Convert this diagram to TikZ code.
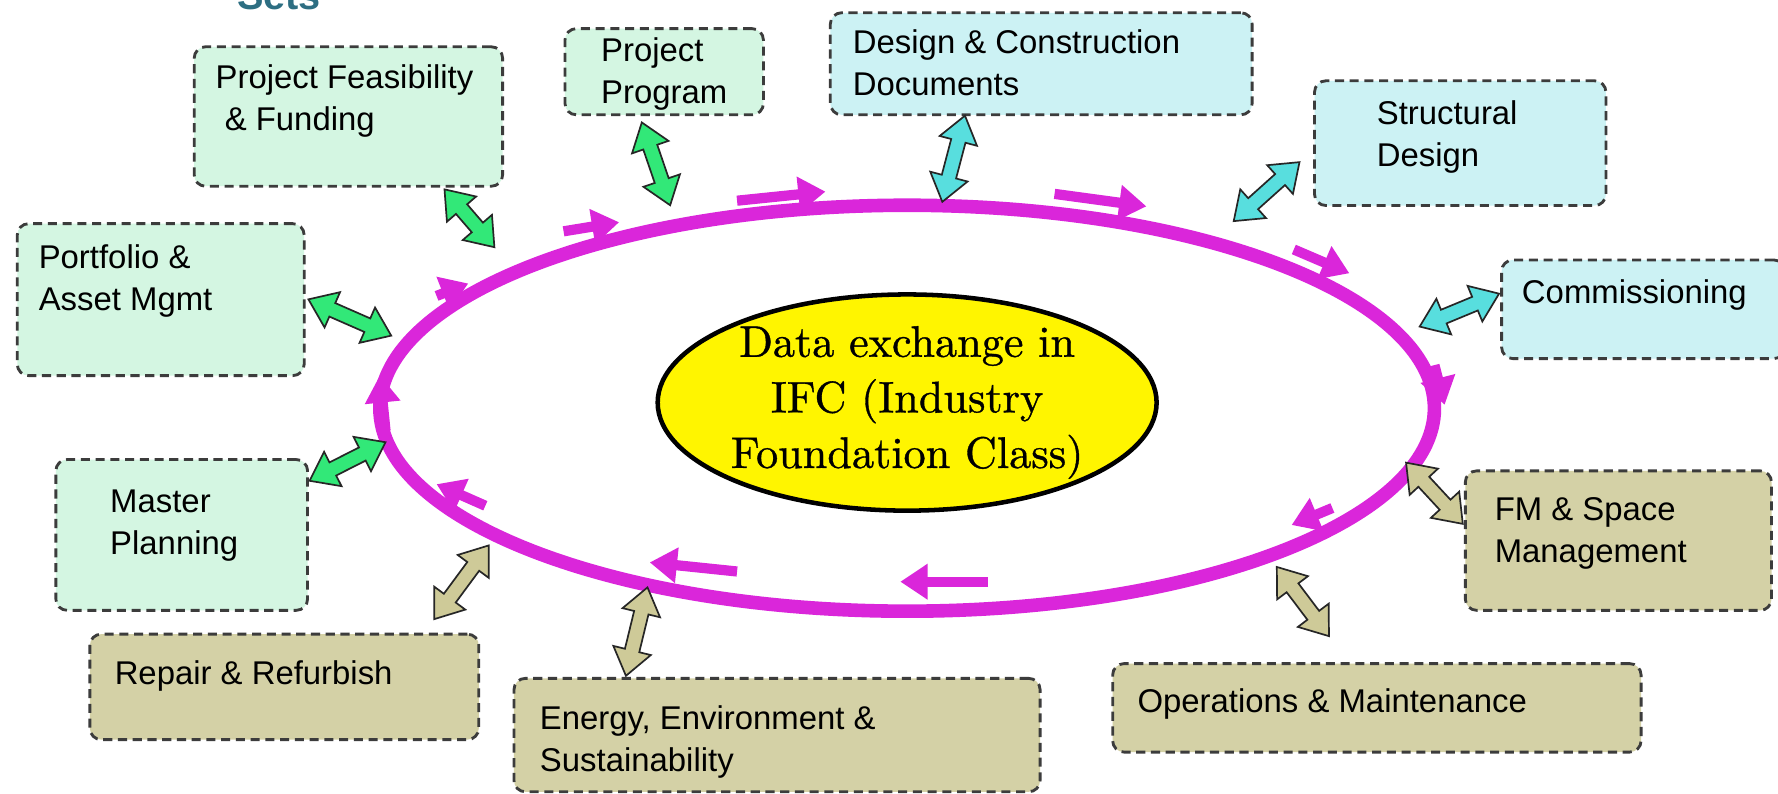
\documentclass[tikz,border=0pt]{standalone}
\usepackage{fontspec}
\setsansfont{Liberation Sans}
\newfontfamily\ifcfont{lmroman10-regular.otf}[FakeBold=0.8]
\usetikzlibrary{calc,arrows.meta,shapes.geometric}
\definecolor{mint}{RGB}{212,246,226}
\definecolor{aqua}{RGB}{204,242,244}
\definecolor{khaki}{RGB}{212,209,166}
\definecolor{ringc}{RGB}{218,38,218}
\definecolor{agreen}{RGB}{50,232,120}
\definecolor{acyan}{RGB}{88,222,222}
\definecolor{akhaki}{RGB}{206,202,152}
\definecolor{bordergray}{RGB}{60,60,60}
\definecolor{ifcyellow}{RGB}{255,245,0}
\definecolor{setsc}{RGB}{45,110,130}
\newcommand\dblarrow[3]{%
  \coordinate (dA) at ($(#1)!23pt!(#2)$);
  \coordinate (dB) at ($(#2)!23pt!(#1)$);
  \draw[dblarr, fill=#3] (#1)
    -- ($(dA)!17pt!90:(#2)$) -- ($(dA)!6.5pt!90:(#2)$)
    -- ($(dB)!6.5pt!-90:(#1)$) -- ($(dB)!17pt!-90:(#1)$)
    -- (#2)
    -- ($(dB)!17pt!90:(#1)$) -- ($(dB)!6.5pt!90:(#1)$)
    -- ($(dA)!6.5pt!-90:(#2)$) -- ($(dA)!17pt!-90:(#2)$)
    -- cycle;
}
\begin{document}
\begin{tikzpicture}[x=1pt,y=-1pt,
  box/.style={draw=bordergray, line width=2.5pt, dash pattern=on 8pt off 5pt, rounded corners=10pt, anchor=north west, inner sep=0pt},
  lbl/.style={anchor=north west, inner sep=0pt, align=left, font=\sffamily\fontsize{29}{37}\selectfont},
  dblarr/.style={draw=black!85, line width=1.5pt, line join=miter},
  flow/.style={draw=ringc, line width=9pt, -{Triangle[length=24pt,width=30pt]}}
]
\useasboundingbox (0,0) rectangle (1568,700);
\fill[white] (0,0) rectangle (1568,700);

% partial title at top edge
\node[anchor=base west, inner sep=0pt, font=\sffamily\bfseries\fontsize{35}{40}\selectfont, text=setsc] (sets) at (209,8) {Sets};

% ring and centre
\node[ellipse, draw=ringc, line width=12pt, minimum width=930pt, minimum height=358pt, inner sep=0pt] (ring) at (800,360) {};
\node[ellipse, draw=black, line width=4pt, fill=ifcyellow, minimum width=440pt, minimum height=184pt, inner sep=0pt, align=center, font=\ifcfont\fontsize{39}{49}\selectfont] (ifc) at (800,355) {Data exchange in\\IFC (Industry\\Foundation Class)};

% boxes
\node[box, fill=mint, minimum width=272pt, minimum height=123pt] (pf) at (170,40) {};
\node[lbl] (pft) at (190,57) {Project Feasibility\\~\& Funding};
\node[box, fill=mint, minimum width=175pt, minimum height=76pt] (pp) at (497,24) {};
\node[lbl] (ppt) at (530,33) {Project\\Program};
\node[box, fill=aqua, minimum width=372pt, minimum height=90pt] (dc) at (731,10) {};
\node[lbl] (dct) at (752,26) {Design \& Construction\\Documents};
\node[box, fill=aqua, minimum width=257pt, minimum height=110pt] (sd) at (1158,70) {};
\node[lbl] (sdt) at (1214,89) {Structural\\Design};
\node[box, fill=aqua, minimum width=250pt, minimum height=87pt] (cm) at (1323,228) {};
\node[lbl] (cmt) at (1342,246) {Commissioning};
\node[box, fill=mint, minimum width=253pt, minimum height=134pt] (pa) at (14,196) {};
\node[lbl] (pat) at (34,216) {Portfolio \&\\Asset Mgmt};
\node[box, fill=mint, minimum width=222pt, minimum height=133pt] (mp) at (48,404) {};
\node[lbl] (mpt) at (97,432) {Master\\Planning};
\node[box, fill=khaki, minimum width=343pt, minimum height=93pt] (rr) at (78,558) {};
\node[lbl] (rrt) at (101,582) {Repair \& Refurbish};
\node[box, fill=khaki, minimum width=464pt, minimum height=100pt] (ee) at (452,597) {};
\node[lbl] (eet) at (476,622) {Energy, Environment \&\\Sustainability};
\node[box, fill=khaki, minimum width=466pt, minimum height=78pt] (om) at (980,584) {};
\node[lbl] (omt) at (1003,607) {Operations \& Maintenance};
\node[box, fill=khaki, minimum width=270pt, minimum height=123pt] (fm) at (1291,414) {};
\node[lbl] (fmt) at (1318,439) {FM \& Space\\Management};

% double arrow end points
\coordinate (pfA) at (392,167); \coordinate (pfB) at (436,218);
\coordinate (paA) at (272,264); \coordinate (paB) at (345,296);
\coordinate (mpA) at (273,424); \coordinate (mpB) at (340,390);
\coordinate (ppA) at (566,108); \coordinate (ppB) at (591,181);
\coordinate (dcA) at (851,102); \coordinate (dcB) at (831,178);
\coordinate (sdA) at (1146,143); \coordinate (sdB) at (1088,195);
\coordinate (cmA) at (1322,259); \coordinate (cmB) at (1252,288);
\coordinate (fmA) at (1290,462); \coordinate (fmB) at (1240,408);
\coordinate (omA) at (1172,561); \coordinate (omB) at (1126,500);
\coordinate (eeA) at (552,596); \coordinate (eeB) at (571,518);
\coordinate (rrA) at (383,546); \coordinate (rrB) at (431,481);

\dblarrow{pfA}{pfB}{agreen}
\dblarrow{paA}{paB}{agreen}
\dblarrow{mpA}{mpB}{agreen}
\dblarrow{ppA}{ppB}{agreen}
\dblarrow{dcA}{dcB}{acyan}
\dblarrow{sdA}{sdB}{acyan}
\dblarrow{cmA}{cmB}{acyan}
\dblarrow{fmA}{fmB}{akhaki}
\dblarrow{omA}{omB}{akhaki}
\dblarrow{eeA}{eeB}{akhaki}
\dblarrow{rrA}{rrB}{akhaki}

% flow arrows around the ring
\coordinate (f1a) at (497,204); \coordinate (f1b) at (546,196);
\coordinate (f2a) at (650,177); \coordinate (f2b) at (728,169);
\coordinate (f3a) at (930,171); \coordinate (f3b) at (1011,182);
\coordinate (f4a) at (1141,220); \coordinate (f4b) at (1190,241);
\coordinate (f5a) at (1265,322); \coordinate (f5b) at (1274,357);
\coordinate (f6a) at (1175,448); \coordinate (f6b) at (1139,463);
\coordinate (f7a) at (871,513); \coordinate (f7b) at (794,513);
\coordinate (f8a) at (650,504); \coordinate (f8b) at (573,496);
\coordinate (f9a) at (428,446); \coordinate (f9b) at (385,427);
\coordinate (f10a) at (340,380); \coordinate (f10b) at (335,331);
\coordinate (f11a) at (385,261); \coordinate (f11b) at (413,250);
\foreach \i in {1,...,11} {\draw[flow] (f\i a) -- (f\i b);}
\end{tikzpicture}
\end{document}
